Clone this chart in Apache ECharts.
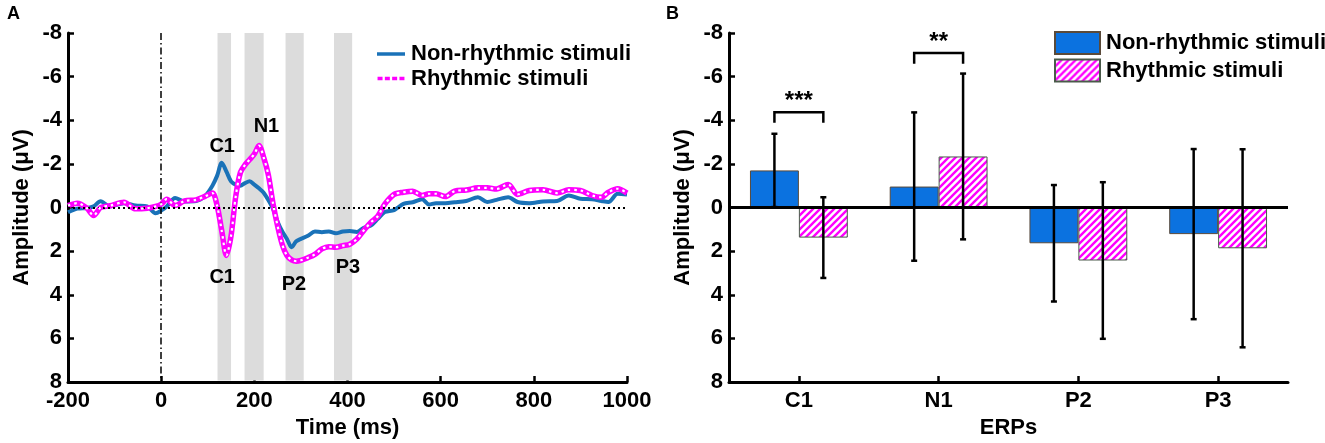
<!DOCTYPE html>
<html>
<head>
<meta charset="utf-8">
<script src="https://cdn.jsdelivr.net/npm/echarts/dist/echarts.min.js"></script>
<style>
html, body { margin: 0; padding: 0; background: #fff; }
#main { width: 1325px; height: 443px; }
</style>
</head>
<body>
<div id="main"></div>
<script>
// panel A: grand-average ERP waveforms
const times = [-200, -180, -160, -145, -130, -110, -80, -55, -30, -12,
  0, 12, 30, 50, 75, 95, 110, 120, 130, 140,
  150, 160, 170, 180, 190, 200, 210, 220, 230, 240,
  250, 260, 270, 280, 290, 300, 315, 330, 345, 360,
  375, 390, 405, 420, 435, 450, 465, 480, 500, 520,
  540, 560, 575, 590, 610, 630, 655, 680, 700, 720,
  745, 765, 790, 820, 850, 875, 900, 925, 945, 960,
  980, 1000];
const nonRhythmicWave = [0.22, 0.05, 0.02, -0.05, -0.29, -0.05, -0.2, -0.09, -0.05, 0.26,
  0.14, -0.05, -0.43, -0.28, -0.3, -0.55, -1.0, -1.45, -2.05, -1.65,
  -1.2, -1.05, -1.0, -1.12, -1.2, -1.05, -0.88, -0.68, -0.35, 0.05,
  0.65, 1.1, 1.44, 1.82, 1.55, 1.44, 1.3, 1.1, 1.13, 1.1,
  1.18, 1.1, 1.08, 1.12, 0.93, 0.83, 0.52, 0.21, 0.12, -0.17,
  -0.24, -0.38, -0.14, -0.2, -0.2, -0.24, -0.3, -0.47, -0.25, -0.35,
  -0.47, -0.25, -0.2, -0.28, -0.3, -0.55, -0.4, -0.38, -0.3, -0.25,
  -0.63, -0.6];
const rhythmicWave = [-0.09, -0.2, 0.02, 0.37, 0.0, -0.08, -0.24, 0.06, 0.03, -0.05,
  -0.15, -0.38, -0.09, -0.3, -0.35, -0.52, -0.66, -0.09, 1.06, 2.2,
  1.3, -0.5, -1.6, -1.95, -2.2, -2.45, -2.84, -2.3, -1.5, -0.2,
  0.85, 1.7, 2.2, 2.4, 2.46, 2.42, 2.3, 2.15, 1.9, 1.8,
  1.82, 1.75, 1.68, 1.45, 1.05, 0.68, 0.4, -0.15, -0.6, -0.7,
  -0.75, -0.55, -0.63, -0.63, -0.5, -0.75, -0.8, -0.9, -0.9, -0.85,
  -1.06, -0.6, -0.78, -0.81, -0.66, -0.81, -0.78, -0.55, -0.47, -0.7,
  -0.86, -0.66];
const bandStart = [121, 179, 267, 371];
const bandEnd = [150, 220, 306, 410];
const peakNames = ['C1', 'N1', 'C1', 'P2', 'P3'];
const peakTimes = [131, 226, 131, 285, 401];
const peakAmps = [-2.8, -3.7, 3.2, 3.55, 2.75];

// panel B: mean amplitudes
const erps = ['C1', 'N1', 'P2', 'P3'];
const nonRhythmicMean = [-1.70, -0.96, 1.64, 1.22];
const nonRhythmicSD = [1.68, 3.40, 2.67, 3.90];
const rhythmicMean = [1.38, -2.34, 2.43, 1.87];
const rhythmicSD = [1.85, 3.80, 3.59, 4.54];
const sigIndex = [0, 1];
const sigLevel = [-4.37, -7.08];
const sigLeg = [-3.88, -6.59];
const sigText = ['***', '**'];

const FONT = '"Liberation Sans", Arial, Helvetica, sans-serif';
const BLUE_LINE = '#1a72b8';
const MAGENTA = '#ff00ff';
const BLUE_BAR = '#0b72e0';
const HALF_BAR = 0.175; // bar centre offset, as share of category width

function hatchCanvas() {
  const c = document.createElement('canvas');
  c.width = 7; c.height = 7;
  const ctx = c.getContext('2d');
  ctx.fillStyle = '#fff';
  ctx.fillRect(0, 0, 7, 7);
  ctx.strokeStyle = MAGENTA;
  ctx.lineWidth = 2.4;
  ctx.beginPath();
  ctx.moveTo(-1, 8); ctx.lineTo(8, -1);
  ctx.moveTo(-1, 1); ctx.lineTo(1, -1);
  ctx.moveTo(6, 8); ctx.lineTo(8, 6);
  ctx.stroke();
  return c;
}

const waveNon = times.map((t, i) => [t, nonRhythmicWave[i]]);
const waveRhy = times.map((t, i) => [t, rhythmicWave[i]]);
const bandData = bandStart.map((s, i) => [s, bandEnd[i]]);
const peakData = peakTimes.map((t, i) => [t, peakAmps[i]]);

const errData = [];
erps.forEach((e, i) => {
  errData.push([i, nonRhythmicMean[i], nonRhythmicSD[i], -1]);
  errData.push([i, rhythmicMean[i], rhythmicSD[i], 1]);
});
const sigData = sigIndex.map((c, i) => [c, sigLevel[i], sigLeg[i]]);

const labelStyle = { color: '#000', fontFamily: FONT, fontWeight: 'bold', fontSize: 22 };
const axisLine = { show: true, onZero: false, lineStyle: { color: '#000', width: 3 } };
const axisTick = { show: true, inside: true, length: 6, lineStyle: { color: '#000', width: 2.5 } };
const dotIcon = 'path://M0,0h5v3.5h-5z M7.3,0h5v3.5h-5z M14.6,0h5v3.5h-5z M21.9,0h5v3.5h-5z';

var chartDom = document.getElementById('main');
var myChart = echarts.init(chartDom);
var option;

option = {
  animation: false,
  backgroundColor: '#fff',
  title: [
    { text: 'A', left: 7, top: 5, padding: 0, textStyle: { fontFamily: FONT, fontWeight: 'bold', fontSize: 18, color: '#000' } },
    { text: 'B', left: 666, top: 5, padding: 0, textStyle: { fontFamily: FONT, fontWeight: 'bold', fontSize: 18, color: '#000' } }
  ],
  grid: [
    { left: 68, right: 698, top: 33, bottom: 61, containLabel: false, outerBoundsMode: 'none' },
    { left: 729, right: 37, top: 33, bottom: 61, containLabel: false, outerBoundsMode: 'none' }
  ],
  legend: [
    {
      orient: 'vertical', left: 377, top: 43, padding: 0, itemWidth: 28, itemHeight: 3.5, itemGap: 2.5,
      textStyle: Object.assign({ padding: [0, 0, 0, 1] }, labelStyle),
      data: [
        { name: 'Non-rhythmic stimuli', icon: 'rect' },
        { name: 'Rhythmic stimuli', icon: dotIcon }
      ]
    },
    {
      orient: 'vertical', left: 1054, top: 31, padding: 0, itemWidth: 45, itemHeight: 22, itemGap: 3.5,
      textStyle: Object.assign({ padding: [0, 0, 0, 1] }, labelStyle),
      data: [
        { name: 'Non-rhythmic stimuli ', icon: 'rect' },
        { name: 'Rhythmic stimuli ', icon: 'rect' }
      ]
    }
  ],
  xAxis: [
    {
      type: 'value', gridIndex: 0, min: -200, max: 1000, interval: 200,
      name: 'Time (ms)', nameLocation: 'middle', nameGap: 32,
      nameTextStyle: labelStyle,
      axisLine: axisLine, axisTick: axisTick, splitLine: { show: false },
      axisLabel: Object.assign({ margin: 8, formatter: v => String(v) }, labelStyle)
    },
    {
      type: 'category', gridIndex: 1, data: erps,
      name: 'ERPs', nameLocation: 'middle', nameGap: 32,
      nameTextStyle: labelStyle,
      axisLine: axisLine,
      axisTick: Object.assign({ alignWithLabel: true, interval: 0 }, axisTick),
      splitLine: { show: false },
      axisLabel: Object.assign({ margin: 8, interval: 0 }, labelStyle)
    }
  ],
  yAxis: [0, 1].map(g => ({
    type: 'value', gridIndex: g, min: -8, max: 8, interval: 2, inverse: true,
    name: 'Amplitude (μV)', nameLocation: 'middle', nameGap: 35, nameRotate: 90,
    nameTextStyle: labelStyle,
    axisLine: axisLine, axisTick: axisTick, splitLine: { show: false },
    axisLabel: Object.assign({ margin: 6 }, labelStyle)
  })),
  series: [
    {
      name: 'bands', type: 'custom', xAxisIndex: 0, yAxisIndex: 0, z: 1, silent: true,
      data: bandData,
      renderItem: function (params, api) {
        const p1 = api.coord([api.value(0), -8]);
        const p2 = api.coord([api.value(1), 8]);
        return { type: 'rect', shape: { x: p1[0], y: p1[1], width: p2[0] - p1[0], height: p2[1] - p1[1] - 1.5 },
          style: { fill: '#dcdcdc' } };
      },
      markLine: {
        silent: true, symbol: ['none', 'none'], label: { show: false },
        data: [
          { xAxis: 0, lineStyle: { color: '#000', width: 1.5, type: [7, 3, 1.5, 3] } },
          { yAxis: 0, lineStyle: { color: '#000', width: 2, type: [2, 3] } }
        ]
      }
    },
    {
      name: 'Non-rhythmic stimuli', type: 'line', xAxisIndex: 0, yAxisIndex: 0, z: 3,
      data: waveNon, showSymbol: false, symbol: 'none', smooth: 0.3,
      lineStyle: { color: BLUE_LINE, width: 4 }, itemStyle: { color: BLUE_LINE }
    },
    {
      name: 'Rhythmic stimuli', type: 'line', xAxisIndex: 0, yAxisIndex: 0, z: 4,
      data: waveRhy, showSymbol: false, symbol: 'none', smooth: 0.3,
      lineStyle: { color: MAGENTA, width: 5.5 }, itemStyle: { color: MAGENTA }
    },
    {
      name: 'rhythmic-dots', type: 'line', xAxisIndex: 0, yAxisIndex: 0, z: 5,
      data: waveRhy, showSymbol: false, symbol: 'none', smooth: 0.3,
      lineStyle: { color: '#fff', width: 2.2, type: [2.5, 4], cap: 'butt' }
    },
    {
      name: 'peaks', type: 'custom', xAxisIndex: 0, yAxisIndex: 0, z: 6, silent: true,
      data: peakData,
      renderItem: function (params, api) {
        const p = api.coord([api.value(0), api.value(1)]);
        return { type: 'text', x: p[0], y: p[1],
          style: { text: peakNames[params.dataIndex], fill: '#000', font: 'bold 20px ' + FONT,
            align: 'center', verticalAlign: 'middle' } };
      }
    },
    {
      name: 'Non-rhythmic stimuli ', type: 'bar', xAxisIndex: 1, yAxisIndex: 1,
      data: nonRhythmicMean, barGap: '0%', barCategoryGap: '30%',
      itemStyle: { color: BLUE_BAR, borderColor: '#5a4a3a', borderWidth: 1 },
      markLine: {
        silent: true, symbol: ['none', 'none'], label: { show: false },
        lineStyle: { color: '#000', width: 3, type: 'solid' },
        data: [{ yAxis: 0 }]
      }
    },
    {
      name: 'Rhythmic stimuli ', type: 'bar', xAxisIndex: 1, yAxisIndex: 1,
      data: rhythmicMean, barGap: '0%', barCategoryGap: '30%',
      itemStyle: { color: { image: hatchCanvas(), repeat: 'repeat' }, borderColor: '#4a5a4a', borderWidth: 1 }
    },
    {
      name: 'errors', type: 'custom', xAxisIndex: 1, yAxisIndex: 1, z: 5, silent: true,
      data: errData,
      renderItem: function (params, api) {
        const i = api.value(0), m = api.value(1), sd = api.value(2), side = api.value(3);
        const band = api.size([1, 0])[0];
        const x = api.coord([i, m])[0] + side * band * HALF_BAR;
        const y1 = api.coord([i, m - sd])[1];
        const y2 = api.coord([i, m + sd])[1];
        const st = { stroke: '#000', lineWidth: 2.5 };
        return { type: 'group', children: [
          { type: 'line', shape: { x1: x, y1: y1, x2: x, y2: y2 }, style: st },
          { type: 'line', shape: { x1: x - 3, y1: y1, x2: x + 3, y2: y1 }, style: st },
          { type: 'line', shape: { x1: x - 3, y1: y2, x2: x + 3, y2: y2 }, style: st }
        ] };
      }
    },
    {
      name: 'significance', type: 'custom', xAxisIndex: 1, yAxisIndex: 1, z: 6, silent: true,
      data: sigData,
      renderItem: function (params, api) {
        const i = api.value(0);
        const band = api.size([1, 0])[0];
        const c = api.coord([i, api.value(1)]);
        const yLeg = api.coord([i, api.value(2)])[1];
        const xl = c[0] - band * HALF_BAR, xr = c[0] + band * HALF_BAR;
        const st = { stroke: '#000', lineWidth: 2.5, fill: null };
        return { type: 'group', children: [
          { type: 'polyline', shape: { points: [[xl, yLeg], [xl, c[1]], [xr, c[1]], [xr, yLeg]] }, style: st },
          { type: 'text', x: c[0], y: c[1] + 1,
            style: { text: sigText[params.dataIndex], fill: '#000', font: 'bold 24px ' + FONT,
              align: 'center', verticalAlign: 'bottom' } }
        ] };
      }
    }
  ]
};

option && myChart.setOption(option);
</script>
</body>
</html>
